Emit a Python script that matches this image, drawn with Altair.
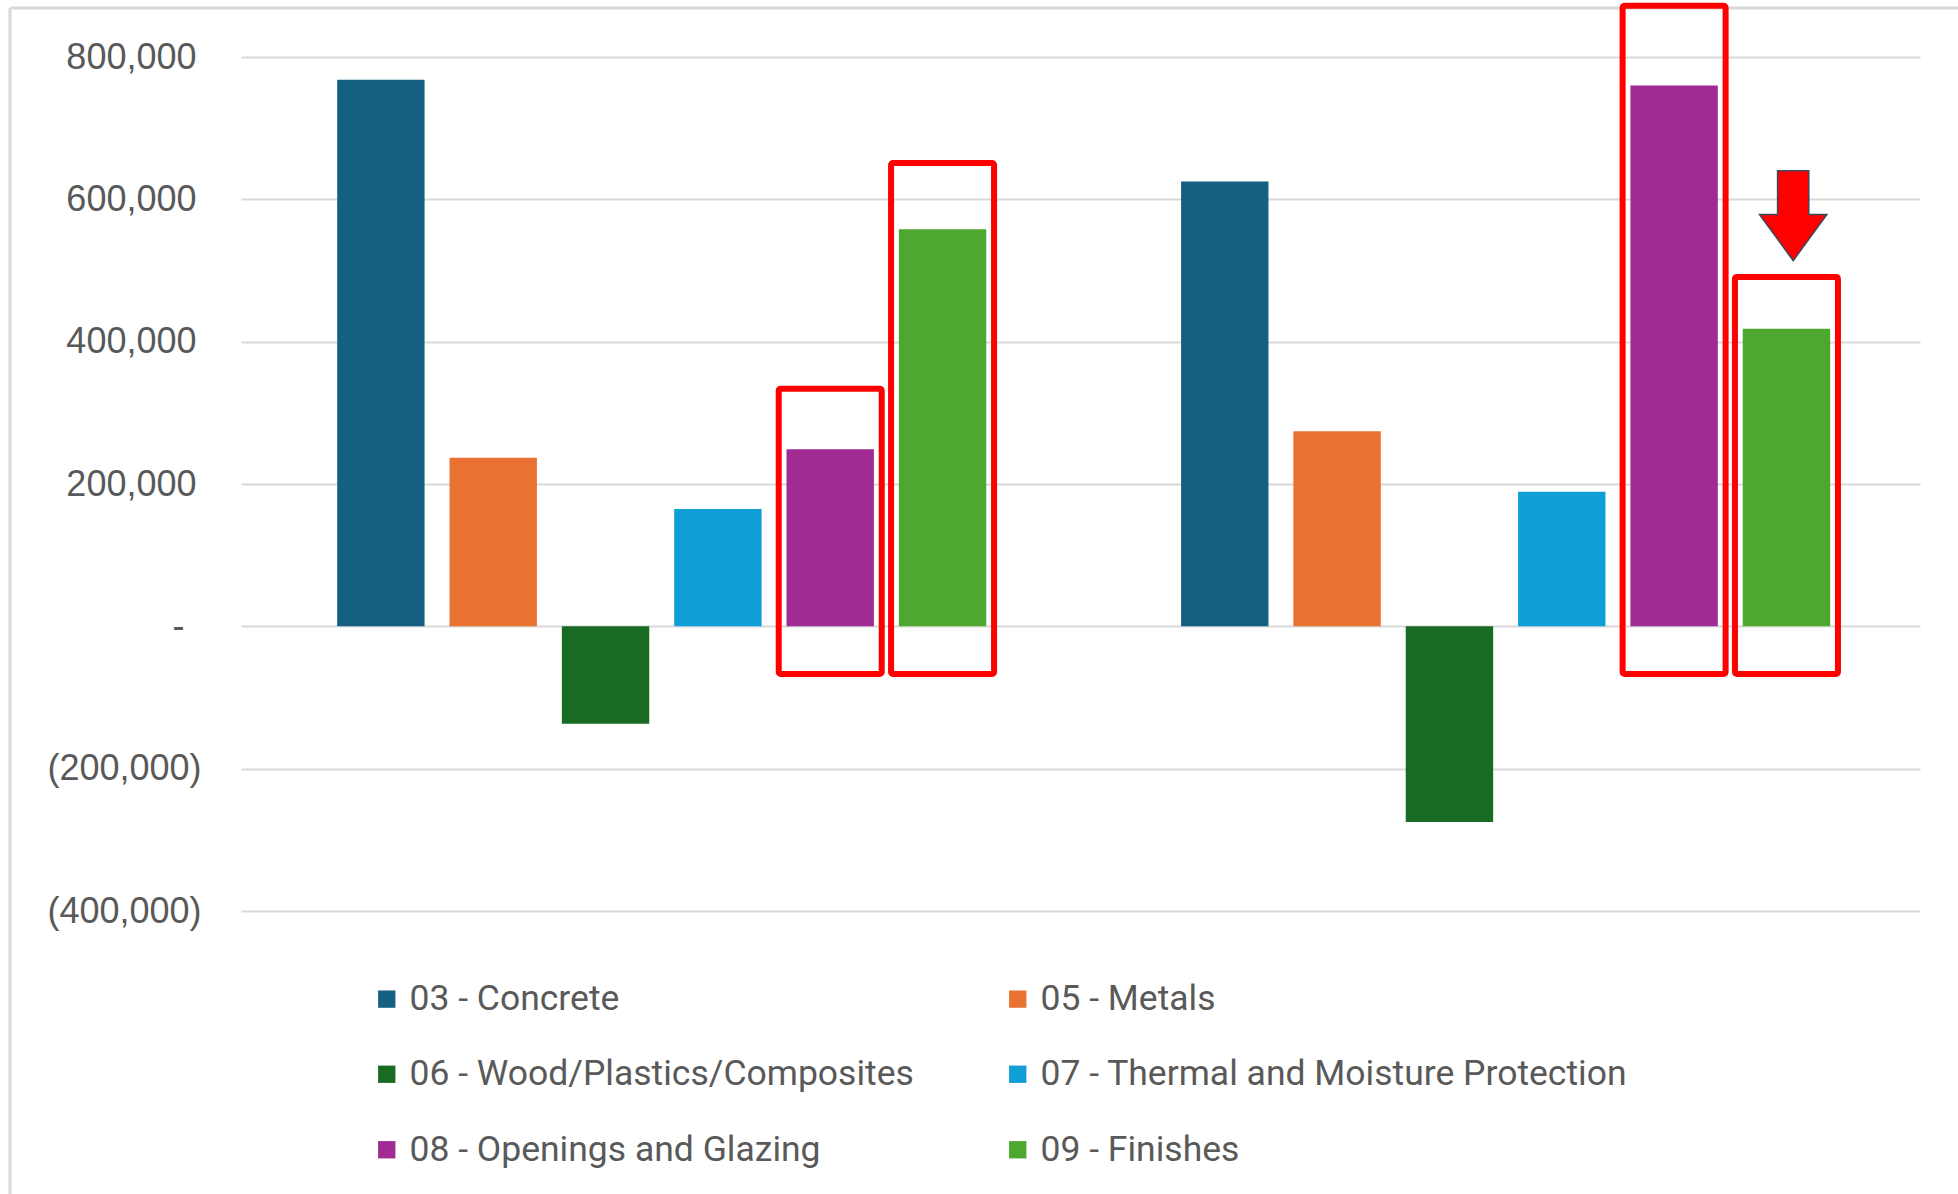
import altair as alt
import pandas as pd

# ---- data ----
groups = ["Group 1", "Group 2"]
divisions = [
    "03 - Concrete",
    "05 - Metals",
    "06 - Wood/Plastics/Composites",
    "07 - Thermal and Moisture Protection",
    "08 - Openings and Glazing",
    "09 - Finishes",
]
colors = ["#156082", "#E97132", "#196B24", "#0F9ED5", "#A02B93", "#4EA72E"]
values_g1 = [768000, 237000, -137000, 165000, 249000, 558000]
values_g2 = [625000, 274000, -275000, 189000, 760000, 418000]

# highlight boxes (annotations)
box_groups = ["Group 1", "Group 1", "Group 2", "Group 2"]
box_divisions = [divisions[4], divisions[5], divisions[4], divisions[5]]
box_top = [334000, 651000, 872000, 491000]
box_bottom = [-67000, -67000, -67000, -67000]

# arrow annotation
arrow_groups = ["Group 2"]
arrow_divisions = [divisions[5]]
arrow_value = [577000]

y_ticks = [-400000, -200000, 0, 200000, 400000, 600000, 800000]

# legend is laid out column by column, so order entries to read row by row
legend_order = [0, 2, 4, 1, 3, 5]
legend_domain = [divisions[i] for i in legend_order]
legend_range = [colors[i] for i in legend_order]

# ---- tables ----
bars_df = pd.DataFrame({
    "group": [groups[0]] * len(divisions) + [groups[1]] * len(divisions),
    "division": divisions + divisions,
    "value": values_g1 + values_g2,
})
boxes_df = pd.DataFrame({
    "group": box_groups,
    "division": box_divisions,
    "value": box_top,
    "value2": box_bottom,
})
arrow_df = pd.DataFrame({
    "group": arrow_groups,
    "division": arrow_divisions,
    "value": arrow_value,
})

label_expr = (
    "datum.value == 0 ? '-' : (datum.value < 0 ? '(' + format(-datum.value, ',') + ')'"
    " : format(datum.value, ','))"
)

x_enc = alt.X("group:N", sort=groups, axis=None,
              scale=alt.Scale(domain=groups, paddingInner=0.0104, paddingOuter=0))
xoff_enc = alt.XOffset("division:N", sort=divisions,
                       scale=alt.Scale(domain=divisions, paddingInner=0.222,
                                       paddingOuter=0.828, align=0.517))
y_enc = alt.Y(
    "value:Q",
    scale=alt.Scale(domain=[-400000, 800000], nice=False, zero=False),
    axis=alt.Axis(
        values=y_ticks, labelExpr=label_expr, title=None, ticks=False, domain=False,
        grid=True, gridColor="#d9d9d9", gridWidth=2,
        labelFontSize=36, labelFont="Liberation Sans", labelColor="#595959",
        labelPadding={
            "condition": [
                {"test": "datum.value == 0", "value": 57},
                {"test": "datum.value > 0", "value": 45},
            ],
            "value": 40,
        },
    ),
)

bars = alt.Chart(bars_df).mark_bar().encode(
    x=x_enc,
    xOffset=xoff_enc,
    y=y_enc,
    color=alt.Color(
        "division:N",
        scale=alt.Scale(domain=legend_domain, range=legend_range),
        legend=alt.Legend(
            title=None, orient="none", legendX=128, legendY=924, columns=2,
            symbolType="square", symbolSize=300, symbolStrokeWidth=0,
            labelFontSize=35.5, labelFont="Roboto", labelColor="#595959",
            labelOffset=5, columnPadding=86, rowPadding=38.5,
            labelLimit=1000,
        ),
    ),
)

boxes = alt.Chart(boxes_df).mark_bar(
    fillOpacity=0, stroke="#ff0000", strokeWidth=6, width=103, cornerRadius=2,
).encode(
    x=x_enc, xOffset=xoff_enc, y=y_enc, y2="value2:Q",
)

arrow_path = ("M-0.263,-1.333L0.663,-1.333L0.663,-0.037L1.2,-0.037L0.2,1.333"
              "L-0.8,-0.037L-0.263,-0.037Z")
arrow = alt.Chart(arrow_df).mark_point(
    shape=arrow_path, size=4545, filled=True, fill="#ff0000",
    stroke="#3a4a5a", strokeWidth=1.5, opacity=1,
).encode(x=x_enc, xOffset=xoff_enc, y=y_enc)

frame_df = pd.DataFrame({"a": [0]})
frame_top = alt.Chart(frame_df).mark_rule(color="#d9d9d9", strokeWidth=3).encode(
    x=alt.value(-231), x2=alt.value(1717), y=alt.value(-49)
)
frame_left = alt.Chart(frame_df).mark_rule(color="#d9d9d9", strokeWidth=3).encode(
    x=alt.value(-231), y=alt.value(-49), y2=alt.value(1137)
)

chart = alt.layer(frame_top, frame_left, bars, boxes, arrow).properties(
    width=1679, height=854,
    autosize=alt.AutoSizeParams(type="none"),
    padding={"left": 241, "top": 57, "right": 38, "bottom": 283},
    background="white",
).configure_view(stroke=None)

chart.save("out.html", embed_options={"renderer": "svg", "actions": False})
